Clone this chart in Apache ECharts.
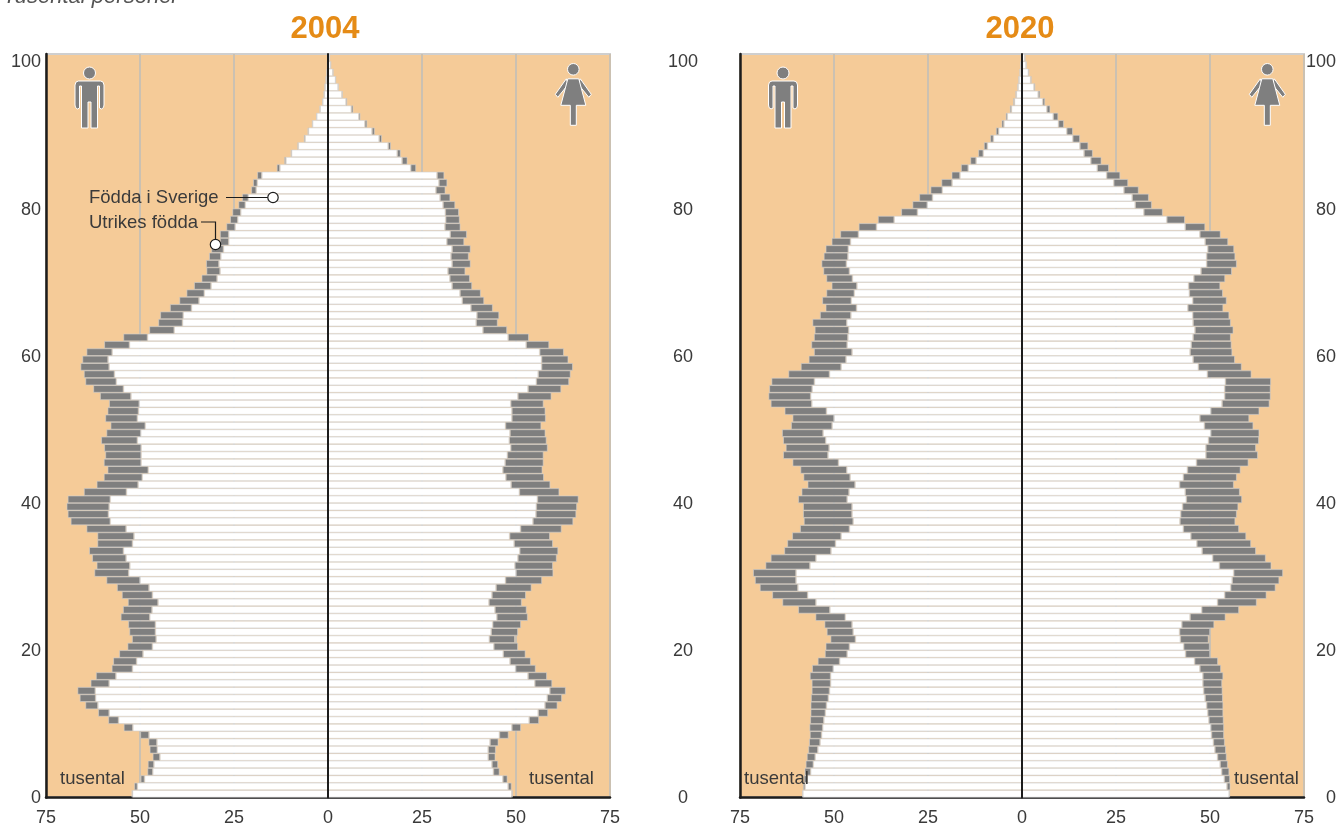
<!DOCTYPE html>
<html><head><meta charset="utf-8">
<style>html,body{margin:0;padding:0;background:#fff}#c{width:1338px;height:825px}</style>
<script src="https://cdn.jsdelivr.net/npm/echarts@6/dist/echarts.min.js"></script>
</head><body><div id="c"></div>
<script>
// Values in thousands, index = age 0..100. "Sv" = born in Sweden, "Tot" = born in Sweden + foreign born.
const male04Sv=[52.0,50.7,48.8,46.6,46.3,44.7,45.4,45.5,47.6,51.9,55.7,58.2,61.2,61.8,61.9,58.2,56.4,52.0,50.9,49.2,46.7,45.7,45.9,45.9,47.4,46.8,45.2,46.7,47.6,50.0,53.0,52.7,53.7,54.4,52.0,51.6,53.7,57.9,58.4,58.2,57.9,53.6,50.5,49.4,47.8,49.7,49.7,49.7,50.7,49.8,48.6,50.7,50.4,50.2,52.4,54.4,56.3,56.8,58.2,58.5,57.4,52.8,48.0,40.9,38.7,38.5,36.3,34.3,32.9,31.1,29.5,28.7,29.0,28.5,27.8,26.4,26.4,24.7,24.0,23.2,22.0,21.2,19.1,18.8,17.6,12.8,11.2,9.7,7.9,6.1,5.2,4.1,3.0,2.1,1.4,1.0,0.8,0.5,0.3,0.15,0.1];
const male04Tot=[52.2,51.5,49.8,48.0,47.9,46.6,47.4,47.7,49.9,54.3,58.4,61.1,64.5,66.0,66.6,63.1,61.7,57.5,57.1,55.5,53.3,52.1,52.8,53.1,55.1,54.5,53.2,54.8,56.1,58.9,62.1,61.5,62.7,63.5,61.3,61.3,64.2,68.4,69.2,69.5,69.2,64.9,61.5,59.6,58.6,59.6,59.2,59.5,60.3,58.9,57.8,59.2,58.6,58.2,60.6,62.4,64.5,64.9,65.8,65.3,64.2,59.5,54.4,47.5,45.1,44.6,42.0,39.5,37.6,35.6,33.6,32.3,32.4,31.6,31.0,28.7,28.7,27.0,26.0,25.4,23.8,22.8,20.4,19.9,18.8,13.6,11.6,9.9,8.1,6.4,5.4,4.2,3.1,2.2,1.5,1.1,0.85,0.55,0.33,0.17,0.12];
const female04Sv=[48.9,47.9,46.5,44.0,43.6,42.6,42.6,43.1,45.6,48.9,53.5,55.9,57.7,58.3,59.0,55.0,53.2,49.9,48.4,46.6,44.1,42.9,43.4,43.8,44.9,44.4,42.8,43.6,44.7,47.2,50.0,49.7,50.5,51.0,49.5,48.3,51.2,54.5,55.3,55.4,55.7,50.9,48.7,47.3,46.5,47.1,47.7,48.6,48.2,48.4,47.2,48.9,48.9,48.6,50.5,53.2,55.4,55.9,56.8,56.8,56.3,52.7,47.9,41.2,39.4,39.6,38.0,35.7,35.1,33.0,32.4,31.9,33.0,32.7,33.0,31.6,32.5,31.1,31.3,31.2,30.6,29.8,28.7,29.5,29.0,22.0,19.7,18.4,16.0,13.6,11.7,9.8,8.2,6.2,4.8,3.7,2.7,2.0,1.3,0.7,0.4];
const female04Tot=[49.1,48.8,47.7,45.6,45.2,44.5,44.6,45.3,48.0,51.3,56.1,58.5,61.0,62.2,63.2,59.6,58.2,55.2,53.9,52.5,50.5,49.7,50.5,51.3,53.1,52.8,51.5,52.6,54.1,56.9,59.9,59.8,60.8,61.2,59.8,59.0,62.1,65.2,66.0,66.2,66.6,61.5,59.1,57.4,57.0,57.3,57.3,58.4,58.1,57.8,56.7,57.9,57.8,57.3,59.4,62.0,64.1,64.5,65.1,63.9,62.7,58.8,53.4,47.6,45.1,45.5,43.8,41.5,40.6,38.3,37.7,36.5,37.9,37.4,37.9,36.2,36.9,35.2,35.0,34.8,33.8,32.5,31.2,31.7,30.9,23.4,21.1,19.3,16.7,14.3,12.4,10.4,8.6,6.7,5.1,3.9,2.8,2.05,1.4,0.75,0.45];
const male20Sv=[58.3,57.7,57.1,56.2,55.5,55.0,54.3,53.7,53.3,53.0,52.7,52.3,52.0,51.5,51.2,50.9,50.9,50.2,48.5,46.5,45.9,44.3,44.9,45.2,47.0,51.1,54.8,57.0,59.6,60.1,60.1,56.4,54.8,50.8,49.6,48.1,45.9,44.9,45.2,45.2,46.5,46.0,44.4,45.7,46.6,48.8,51.6,51.3,52.2,52.9,50.5,50.0,52.0,55.9,56.2,55.8,55.2,51.2,48.1,46.8,45.2,46.5,46.3,46.1,46.6,45.5,44.0,45.4,44.6,43.9,45.1,45.9,46.7,46.3,46.2,45.6,43.5,38.7,34.0,27.8,25.2,23.8,21.2,18.6,16.5,14.3,12.2,10.3,9.2,7.6,6.2,4.8,3.9,2.8,2.0,1.5,1.06,0.8,0.5,0.35,0.18];
const male20Tot=[58.4,58.2,58.0,57.8,57.5,57.2,56.8,56.6,56.4,56.5,56.3,56.2,56.2,56.1,55.9,55.9,56.4,55.8,54.3,52.4,52.2,50.9,51.9,52.5,54.9,59.5,63.7,66.4,69.7,71.0,71.5,68.2,66.8,63.2,62.4,61.1,59.0,58.0,58.2,58.2,59.5,58.6,57.0,58.1,58.9,61.0,63.5,62.8,63.5,63.8,61.4,61.0,63.1,66.8,67.4,67.2,66.6,62.1,58.8,56.7,55.3,56.0,55.3,55.1,55.7,53.7,52.2,53.1,52.0,50.6,52.0,52.8,53.3,52.7,52.2,50.6,48.3,43.4,38.3,32.1,29.1,27.3,24.3,21.4,18.7,16.2,13.7,11.6,10.1,8.4,6.9,5.4,4.3,3.2,2.3,1.7,1.2,0.9,0.6,0.4,0.2];
const female20Sv=[55.1,54.5,53.8,53.1,52.7,52.0,51.3,50.9,50.4,50.2,49.7,49.4,49.1,48.7,48.3,48.1,48.1,47.3,45.9,43.5,43.0,42.1,41.9,42.5,44.7,47.8,52.0,53.9,55.5,55.9,56.3,52.5,50.7,47.9,46.5,44.9,42.9,42.0,42.2,42.7,43.7,43.4,41.9,42.9,44.0,46.4,48.9,48.9,49.6,50.2,48.5,47.3,50.2,53.2,53.9,53.9,54.1,49.3,46.9,45.5,44.7,45.0,45.5,46.0,45.5,45.4,44.1,45.4,44.5,44.3,45.7,47.6,49.1,49.1,49.4,48.7,47.3,43.4,38.5,32.4,30.1,29.3,27.1,24.4,22.5,20.0,18.3,16.5,15.4,13.5,11.9,9.7,8.3,6.6,5.5,4.3,3.2,2.3,1.7,1.1,0.7];
const female20Tot=[55.3,55.4,55.3,55.1,54.7,54.4,54.2,53.9,53.7,53.7,53.6,53.5,53.5,53.4,53.3,53.2,53.5,52.9,52.1,50.0,49.9,49.6,50.0,51.1,54.1,57.7,62.4,65.0,67.4,68.4,69.4,66.3,64.8,62.2,60.9,59.6,57.7,56.7,57.1,57.5,58.5,57.9,56.3,57.1,58.1,60.2,62.7,62.2,63.0,63.1,61.5,60.4,63.1,65.8,66.1,66.1,66.2,61.0,58.4,56.6,55.9,55.7,55.5,56.2,55.5,55.1,53.5,54.4,53.4,52.7,54.0,55.8,57.1,56.7,56.4,54.8,52.8,48.7,43.3,37.4,34.5,33.7,31.0,28.2,26.1,23.1,21.1,18.8,17.6,15.4,13.5,11.1,9.6,7.5,6.1,4.8,3.5,2.5,1.9,1.2,0.9];
const ages=Array.from({length:101},(_,i)=>String(i));
const years=['2004','2020'];

const ORANGE='#f5cb98',GREY='#7f7f7f',EDGE='#d2d2d2',INK='#3a3a3a',BLACK='#1c1c1c';
const LABEL={fontFamily:'Liberation Sans',fontSize:18,color:INK};

function diff(tot,sv){return tot.map((v,i)=>+(v-sv[i]).toFixed(2));}
function neg(a){return a.map(v=>-v);}
function barSeries(name,data,color,xi,yi,stack){
  return {name,type:'bar',data,stack,xAxisIndex:xi,yAxisIndex:yi,barWidth:'100%',silent:true,
    itemStyle:{color,borderColor:EDGE,borderWidth:0.6},animation:false};
}
const grids=[{left:46,top:54,width:564,height:743.5},{left:740,top:54,width:564,height:743.5}]
  .map(g=>Object.assign(g,{show:true,outerBoundsMode:'none',backgroundColor:ORANGE,borderColor:'#cfcfcf',borderWidth:2}));
const xAxis=[0,1].map(g=>({type:'value',gridIndex:g,min:-75,max:75,interval:25,position:'bottom',
  axisLine:{show:true,onZero:false,lineStyle:{color:BLACK,width:2.5}},axisTick:{show:false},
  splitLine:{show:true,lineStyle:{color:'#cbc1b2',width:2}},
  axisLabel:Object.assign({},LABEL,{margin:12,formatter:v=>String(Math.abs(v)),showMinLabel:true,showMaxLabel:true})}));
const catAxis=g=>({type:'category',gridIndex:g,data:ages,position:'left',z:10,
  axisLine:{show:true,onZero:true,lineStyle:{color:BLACK,width:2}},axisTick:{show:false},axisLabel:{show:false},splitLine:{show:false}});
const ageAxis=(g,pos,line,label)=>({type:'value',gridIndex:g,position:pos,min:0,max:101,interval:20,z:9,
  axisLine:{show:line,onZero:false,lineStyle:{color:BLACK,width:2.5}},axisTick:{show:false},splitLine:{show:false},
  axisLabel:Object.assign({},LABEL,label,{formatter:v=>v%20===0?'{a|'+v+'}':'',
    rich:{a:{fontFamily:'Liberation Sans',fontSize:18,color:INK,padding:[2,0,0,0]}}})});
const yAxis=[catAxis(0),ageAxis(0,'left',true,{margin:5,align:'right'}),
  catAxis(1),ageAxis(1,'left',true,{margin:57,align:'center'}),ageAxis(1,'right',false,{margin:32,align:'right'})];
const series=[
  barSeries('Födda i Sverige',neg(male04Sv),'#fff',0,0,'p04'),
  barSeries('Utrikes födda',neg(diff(male04Tot,male04Sv)),GREY,0,0,'p04'),
  barSeries('Födda i Sverige',female04Sv,'#fff',0,0,'p04'),
  barSeries('Utrikes födda',diff(female04Tot,female04Sv),GREY,0,0,'p04'),
  barSeries('Födda i Sverige',neg(male20Sv),'#fff',1,2,'p20'),
  barSeries('Utrikes födda',neg(diff(male20Tot,male20Sv)),GREY,1,2,'p20'),
  barSeries('Födda i Sverige',female20Sv,'#fff',1,2,'p20'),
  barSeries('Utrikes födda',diff(female20Tot,female20Sv),GREY,1,2,'p20')
];
const MAN=[[[-11,8],[11,8],[13.5,9],[14.5,12],[14.5,32],[14,34.5],[12,36],[10,35],[10,13],[8,13],[8,55],[1.5,55],[1.5,29],[-1.5,29],[-1.5,55],[-8,55],[-8,13],[-10,13],[-10,35],[-12,36],[-14,34.5],[-14.5,32],[-14.5,12],[-13.5,9]]];
const WOMAN=[[[-7,9.5],[-18,25],[-15.5,28],[-5,15]],[[7,9.5],[18,25],[15.5,28],[5,15]],[[-5.5,9.5],[5.5,9.5],[12.5,36],[3,36],[3,56],[-3,56],[-3,36],[-12.5,36]]];
function icon(polys,x,y,r){return [
  ...polys.map(points=>({type:'polygon',x,y,z:50,shape:{points},style:{fill:GREY,stroke:'#fff',lineWidth:1}})),
  {type:'circle',x,y,z:50,shape:{cx:0,cy:0,r},style:{fill:GREY,stroke:'#fff',lineWidth:1}}];}
function txt(text,x,y,extra){return {type:'text',x,y,z:60,style:Object.assign({text,fill:INK,font:'18.5px "Liberation Sans"',textVerticalAlign:'middle'},extra||{})};}
function dot(cx,cy){return {type:'circle',z:60,shape:{cx,cy,r:5.2},style:{fill:'#fff',stroke:BLACK,lineWidth:1.2}};}
function poly(points){return {type:'polyline',z:59,shape:{points},style:{stroke:BLACK,lineWidth:1.2,fill:null}};}
const graphic=[
  txt('Tusental personer',3,-3,{font:'italic 22px "Liberation Sans"',fill:'#555',textVerticalAlign:'middle'}),
  ...icon(MAN,89.5,73,6),...icon(WOMAN,573.3,69.3,5.8),...icon(MAN,783,73,6),...icon(WOMAN,1267.3,69.3,5.8),
  txt('tusental',60,778.5),txt('tusental',529,778.5),txt('tusental',744,778.5),txt('tusental',1234,778.5),
  txt('Födda i Sverige',89,197.5),txt('Utrikes födda',89,223),
  poly([[226,197.5],[268,197.5]]),poly([[201,222],[215.5,222],[215.5,240]]),dot(273,197.5),dot(215.5,244.5)
];
const title=years.map((t,i)=>({text:t,left:[320,1015][i],top:9,textAlign:'center',
  textStyle:{fontFamily:'Liberation Sans',fontWeight:'bold',fontSize:31,color:'#e58b16'}}));
const chart=echarts.init(document.getElementById('c'),null,{renderer:'canvas',width:1338,height:825});
chart.setOption({animation:false,backgroundColor:'#fff',title,grid:grids,xAxis,yAxis,series,graphic});
</script></body></html>
